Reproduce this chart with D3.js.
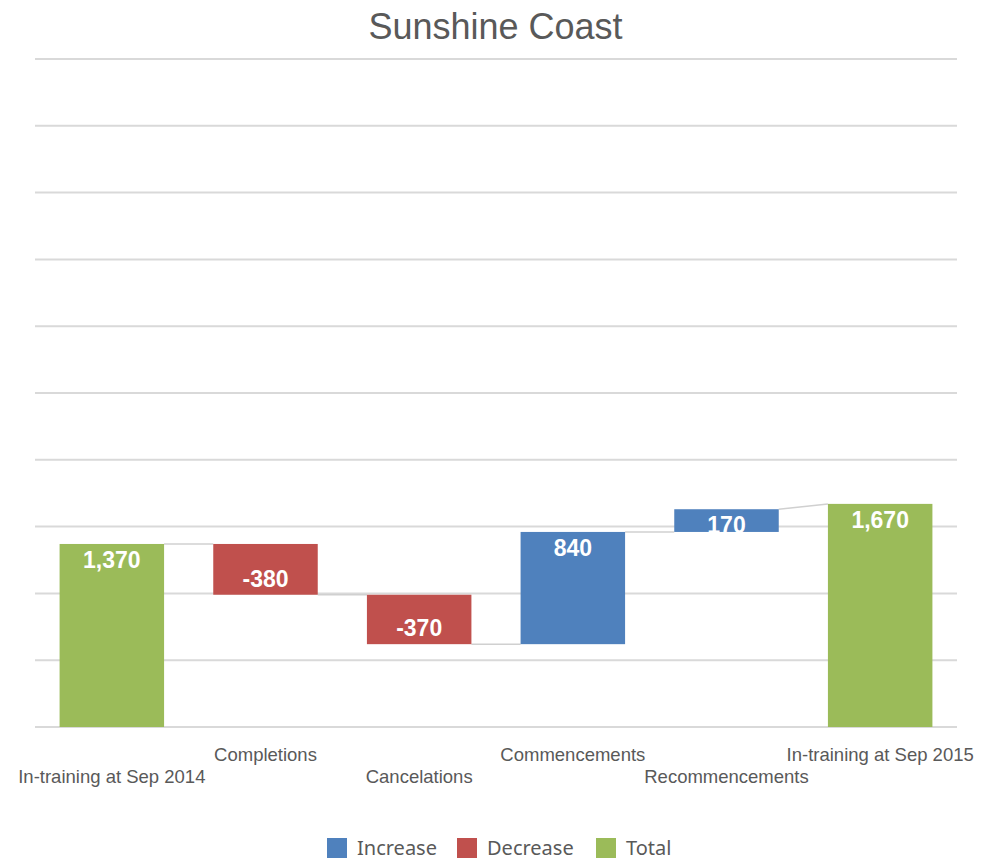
<!DOCTYPE html>
<html>
<head>
<meta charset="utf-8">
<script src="https://cdn.jsdelivr.net/npm/d3@7"></script>
<style>
  body { margin: 0; background: #fff; }
  svg { display: block; }
</style>
</head>
<body>
<svg width="991" height="862"></svg>
<script>
// Data
const categories = ["In-training at Sep 2014", "Completions", "Cancelations", "Commencements", "Recommencements", "In-training at Sep 2015"];
const values = [1370, -380, -370, 840, 170, 1670];
const kinds = ["Total", "Decrease", "Decrease", "Increase", "Increase", "Total"];
const gridTicks = [0, 500, 1000, 1500, 2000, 2500, 3000, 3500, 4000, 4500, 5000];
const legendItems = ["Increase", "Decrease", "Total"];

const colors = { Increase: "#4f81bd", Decrease: "#c0504d", Total: "#9bbb59" };

const svg = d3.select("svg"),
    width = +svg.attr("width"),
    height = +svg.attr("height");

const margin = { left: 35, right: 34 };

// build running totals
let running = 0;
const bars = categories.map((c, i) => {
    let start, end;
    if (kinds[i] === "Total") {
        start = 0; end = values[i];
    } else {
        start = running; end = running + values[i];
    }
    running = end;
    return { cat: c, value: values[i], kind: kinds[i], start, end, i };
});

const x = d3.scaleBand()
    .domain(categories)
    .range([margin.left, width - margin.right])
    .paddingInner(0.32)
    .paddingOuter(0.16);

const y = d3.scaleLinear()
    .domain([0, 5000])
    .range([727, 59]);

// Title
svg.append("text")
    .attr("x", width / 2)
    .attr("y", 39)
    .attr("text-anchor", "middle")
    .attr("font-family", "Liberation Sans, Arial, sans-serif")
    .attr("font-size", 36)
    .attr("fill", "#595959")
    .text("Sunshine Coast");

// Gridlines
svg.append("g")
    .selectAll("line")
    .data(gridTicks)
    .join("line")
    .attr("x1", margin.left)
    .attr("x2", width - margin.right)
    .attr("y1", d => y(d))
    .attr("y2", d => y(d))
    .attr("stroke", "#d9d9d9")
    .attr("stroke-width", 2);

// Connectors
svg.append("g")
    .selectAll("line")
    .data(bars.slice(0, -1))
    .join("line")
    .attr("x1", d => x(d.cat) + x.bandwidth())
    .attr("x2", d => x(categories[d.i + 1]))
    .attr("y1", d => y(d.end))
    .attr("y2", d => {
        const n = bars[d.i + 1];
        return n.kind === "Total" ? y(n.end) : y(n.start);
    })
    .attr("stroke", "#d0d0d0")
    .attr("stroke-width", 1.5);

// Bars
svg.append("g")
    .selectAll("rect")
    .data(bars)
    .join("rect")
    .attr("x", d => x(d.cat))
    .attr("width", x.bandwidth())
    .attr("y", d => y(Math.max(d.start, d.end)))
    .attr("height", d => Math.abs(y(d.start) - y(d.end)))
    .attr("fill", d => colors[d.kind]);

// Value labels (plain hyphen for negatives)
const fmt = v => d3.format(",")(v).replace("\u2212", "-");
svg.append("g")
    .selectAll("text")
    .data(bars)
    .join("text")
    .attr("x", d => x(d.cat) + x.bandwidth() / 2)
    .attr("y", d => d.value < 0 ? y(d.end) - 8 : y(d.end) + 24)
    .attr("text-anchor", "middle")
    .attr("font-family", "Liberation Sans, Arial, sans-serif")
    .attr("font-weight", "bold")
    .attr("font-size", 23)
    .attr("fill", "#fff")
    .text(d => fmt(d.value));

// Category labels, staggered
svg.append("g")
    .selectAll("text")
    .data(bars)
    .join("text")
    .attr("x", d => x(d.cat) + x.bandwidth() / 2)
    .attr("y", d => d.i % 2 === 0 ? 783 : 761)
    .attr("text-anchor", "middle")
    .attr("font-family", "Liberation Sans, Arial, sans-serif")
    .attr("font-size", 18.5)
    .attr("fill", "#595959")
    .text(d => d.cat);

// Legend
const legend = svg.append("g");
const legendPos = [327, 457, 596];
legendItems.forEach((name, i) => {
    const g = legend.append("g").attr("transform", `translate(${legendPos[i]},838)`);
    g.append("rect")
        .attr("width", 20)
        .attr("height", 20)
        .attr("fill", colors[name]);
    g.append("text")
        .attr("x", 30)
        .attr("y", 17)
        .attr("font-family", "Noto Sans, sans-serif")
        .attr("font-size", 20)
        .attr("fill", "#595959")
        .text(name);
});
</script>
</body>
</html>
